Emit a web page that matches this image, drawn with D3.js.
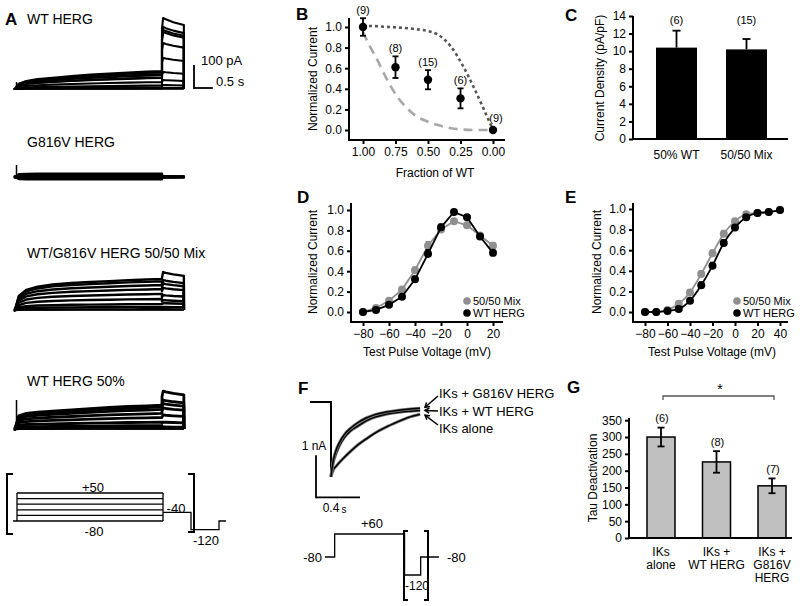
<!DOCTYPE html>
<html><head><meta charset="utf-8">
<script src="https://cdn.jsdelivr.net/npm/d3@7"></script>
<style>
body{margin:0;background:#fff}
svg{font-family:"Liberation Sans",Arial,sans-serif}
.tick line{stroke:#000;stroke-width:2}
.tick text{font-size:12px;fill:#000}
</style></head><body>
<svg id="c" width="800" height="606"></svg>
<script>
// ---------- DATA ----------
// Panel A: current families (pA) — one value per sweep
const tPulse = [0, 0.1, 0.3, 0.6, 1.0, 1.5, 2.0, 2.5, 3.0, 3.5, 3.9];
const tTail = [3.9, 3.93, 4.0, 4.2, 4.48];
const tailShape = [0.85, 1.0, 0.98, 0.94, 0.9];
const wtShape = [0, 0.3, 0.45, 0.55, 0.63, 0.72, 0.8, 0.86, 0.92, 0.97, 1.0];
const mutShape = [0, 0.9, 0.95, 1, 1, 1, 1, 1, 1, 1, 1];
const mixShape = [0, 0.45, 0.65, 0.75, 0.82, 0.87, 0.9, 0.93, 0.96, 0.98, 1.0];
const halfShape = [0, 0.55, 0.65, 0.7, 0.75, 0.8, 0.85, 0.9, 0.94, 0.97, 1.0];
const wtPlateau = [2, 6, 15, 30, 48, 65, 78, 72, 60, 50];
const wtTail = [4, 17, 39, 74, 135, 200, 248, 257, 270, 309];
const mutPlateau = [-10, -5, 0, 5, 10, 14];
const mutTail = [-2, -1, 0, 1, 2, 3];
const mixPlateau = [3, 13, 26, 48, 70, 91, 109, 125, 135];
const mixTail = [3, 13, 30, 43, 65, 96, 115, 130, 165];
const halfPlateau = [3, 15, 30, 50, 68, 85, 96, 104];
const halfTail = [3, 9, 30, 61, 91, 110, 126, 165];
const spikes = [30, 52, 20, 126];
const familyTitles = ["WT HERG", "G816V HERG", "WT/G816V HERG 50/50 Mix", "WT HERG 50%"];
// Protocol A (mV)
const protoALevels = [50, 24, -2, -28, -54, -80];

// Panel B
const fracWT = [1.00, 0.75, 0.50, 0.25, 0.00];
const normCurrent = [1.0, 0.61, 0.488, 0.307, 0.0];
const normErr = [0.085, 0.105, 0.093, 0.097, 0];
const bCounts = ["(9)", "(8)", "(15)", "(6)", "(9)"];
const bDotF = [1.0, 0.97, 0.8, 0.6, 0.5, 0.43, 0.33, 0.23, 0.15, 0.07, 0.0];
const bDotV = [1.01, 1.01, 1.0, 0.98, 0.96, 0.93, 0.82, 0.62, 0.42, 0.2, 0.0];
const bDashF = [1.0, 0.95, 0.89, 0.815, 0.74, 0.66, 0.585, 0.5, 0.43, 0.35, 0.28, 0.15, 0.0];
const bDashV = [0.95, 0.82, 0.68, 0.49, 0.33, 0.21, 0.13, 0.08, 0.05, 0.025, 0.01, 0.0, 0.0];
const bTicksX = [1.00, 0.75, 0.50, 0.25, 0.00];
const unitTicks = [0, 0.2, 0.4, 0.6, 0.8, 1.0];

// Panel C
const cCats = ["50% WT", "50/50 Mix"];
const cVals = [10.4, 10.2];
const cErr = [1.93, 1.18];
const cCounts = ["(6)", "(15)"];
const cTicks = [0, 2, 4, 6, 8, 10, 12, 14];

// Panel D
const dV = [-80, -70, -60, -50, -40, -30, -20, -10, 0, 10, 20];
const dWT = [0.0, 0.02, 0.07, 0.15, 0.32, 0.57, 0.83, 0.98, 0.93, 0.74, 0.58];
const dWTerr = [0.01, 0.01, 0.02, 0.02, 0.03, 0.04, 0.03, 0.02, 0.02, 0.02, 0.02];
const dMix = [0.0, 0.04, 0.11, 0.22, 0.41, 0.65, 0.81, 0.89, 0.85, 0.75, 0.65];
const dMixErr = [0.01, 0.01, 0.02, 0.02, 0.03, 0.04, 0.03, 0.02, 0.02, 0.02, 0.03];
const dTicksX = [-80, -60, -40, -20, 0, 20];

// Panel E
const eV = [-80, -70, -60, -50, -40, -30, -20, -10, 0, 10, 20, 30, 40];
const eWT = [0, 0, 0.01, 0.03, 0.11, 0.26, 0.45, 0.67, 0.82, 0.92, 0.96, 0.97, 0.99];
const eMix = [0, 0, 0.02, 0.08, 0.19, 0.37, 0.57, 0.76, 0.88, 0.95, 0.96, 0.97, 0.99];
const eErr = [0.01, 0.01, 0.01, 0.02, 0.02, 0.03, 0.03, 0.03, 0.02, 0.02, 0.01, 0.01, 0.01];
const eTicksX = [-80, -60, -40, -20, 0, 20, 40];
const legendNames = ["50/50 Mix", "WT HERG"];

// Panel F traces (s, nA)
const fT = [0, 0.02, 0.05, 0.08, 0.12, 0.18, 0.24, 0.32, 0.4, 0.5, 0.6, 0.7, 0.81];
const fG816V = [-1.78, -1.4, -1.12, -0.95, -0.78, -0.62, -0.5, -0.38, -0.3, -0.24, -0.2, -0.17, -0.15];
const fWT = [-1.78, -1.45, -1.2, -1.02, -0.85, -0.68, -0.58, -0.45, -0.36, -0.29, -0.25, -0.22, -0.2];
const fAlone = [-1.78, -1.62, -1.52, -1.43, -1.32, -1.17, -1.03, -0.88, -0.74, -0.6, -0.48, -0.37, -0.29];
const fLabels = ["IKs + G816V HERG", "IKs + WT HERG", "IKs alone"];
// Protocol F (time s, mV)
const protoFT = [0, 0.09, 0.09, 0.74, 0.74, 0.89, 0.89, 1.06];
const protoFV = [-80, -80, 60, 60, -120, -120, -80, -80];

// Panel G
const gCats = [["IKs", "alone"], ["IKs +", "WT HERG"], ["IKs +", "G816V", "HERG"]];
const gVals = [300, 226, 155];
const gErr = [28, 32, 22];
const gCounts = ["(6)", "(8)", "(7)"];
const gTicks = [0, 50, 100, 150, 200, 250, 300, 350];

// ---------- DRAW ----------
const svg = d3.select("#c");

function text(x, y, s, size, anchor, opts = {}) {
  const t = svg.append("text").attr("x", x).attr("y", y).attr("dy", "0.35em")
    .attr("font-size", size).attr("text-anchor", anchor || "start").attr("fill", "#000").text(s);
  if (opts.bold) t.attr("font-weight", "bold");
  if (opts.rot) t.attr("transform", `rotate(-90,${x},${y})`);
  return t;
}
function line(x1, y1, x2, y2, w = 2, col = "#000") {
  svg.append("line").attr("x1", x1).attr("y1", y1).attr("x2", x2).attr("y2", y2)
    .attr("stroke", col).attr("stroke-width", w);
}
function leftAxis(scale, x, ticks, fmt) {
  svg.append("g").attr("transform", `translate(${x},0)`)
    .call(d3.axisLeft(scale).tickValues(ticks).tickFormat(fmt).tickSize(4).tickPadding(3))
    .call(g => g.select(".domain").remove());
}
function bottomAxis(scale, y, ticks, fmt) {
  svg.append("g").attr("transform", `translate(0,${y})`)
    .call(d3.axisBottom(scale).tickValues(ticks).tickFormat(fmt).tickSize(4).tickPadding(3))
    .call(g => g.select(".domain").remove());
}

// Panel letters
[["A", 5, 19], ["B", 296, 14], ["C", 565, 15], ["D", 297, 197], ["E", 565, 197], ["F", 298, 388], ["G", 567, 387]]
  .forEach(([l, x, y]) => text(x, y, l, 17, "start", { bold: true }));

// ---- Panel A ----
const xA = d3.scaleLinear().domain([0, 3.9]).range([15, 162]);
const baseA = [89, 177, 310, 429];
const titleY = [19, 142, 253, 381];
const fams = [
  [wtShape, wtPlateau, wtTail, 2.1],
  [mutShape, mutPlateau, mutTail, 2.4],
  [mixShape, mixPlateau, mixTail, 2.4],
  [halfShape, halfPlateau, halfTail, 2.8]
];
fams.forEach(([shape, plat, tail, sw], fi) => {
  const yA = d3.scaleLinear().domain([0, 100]).range([baseA[fi], baseA[fi] - 23]);
  text(27, titleY[fi], familyTitles[fi], 14);
  const ln = d3.line().x(d => xA(d[0])).y(d => yA(d[1]));
  plat.forEach((p, i) => {
    const pts = [[-0.03, 0], [0, 0]];
    tPulse.forEach((t, k) => { if (k > 0) pts.push([t, p * shape[k]]); });
    tTail.forEach((t, k) => pts.push([t, tail[i] * tailShape[k]]));
    pts.push([4.48, 0]);
    svg.append("path").attr("d", ln(pts)).attr("fill", "none").attr("stroke", "#000")
      .attr("stroke-width", sw).attr("stroke-linejoin", "round");
  });
  line(xA(0.04), yA(0), xA(0.04), yA(spikes[fi]), 1.5);
  line(xA(-0.03), yA(0), xA(4.48), yA(0), 1.5);
});
// scale bar A
{
  const yS = d3.scaleLinear().domain([0, 100]).range([88, 65]);
  const xs0 = 194, xs1 = xs0 + (xA(0.5) - xA(0));
  line(xs0, yS(0) + 1, xs0, yS(100), 1.8);
  line(xs0, yS(0), xs1, yS(0), 1.8);
  text(201, 60, "100 pA", 13);
  text(216, 81, "0.5 s", 13);
}
// Protocol A
{
  const yP = d3.scaleLinear().domain([-80, 50]).range([521, 493]);
  const xP = d3.scaleLinear().domain([0, 3.9]).range([17, 163]);
  protoALevels.forEach(v => {
    if (v === -80) line(13, yP(v), xP(3.9), yP(v), 1.3);
    else line(xP(0), yP(v), xP(3.9), yP(v), 1.3);
  });
  line(xP(0), yP(50), xP(0), yP(-80), 1.3);
  line(xP(3.9), yP(50), xP(3.9), yP(-80), 1.3);
  const tail = d3.line()([[xP(3.9), yP(-40)], [191, yP(-40)], [191, yP(-120)], [219, yP(-120)], [219, yP(-80)], [226, yP(-80)]]);
  svg.append("path").attr("d", tail).attr("fill", "none").attr("stroke", "#000").attr("stroke-width", 1.3);
  svg.append("path").attr("d", "M13,474 H7 V534 H13").attr("fill", "none").attr("stroke", "#000").attr("stroke-width", 2);
  svg.append("path").attr("d", "M188,474 H194 V532 H188").attr("fill", "none").attr("stroke", "#000").attr("stroke-width", 2);
  text(93, 487, "+50", 13, "middle");
  text(94, 531, "-80", 13, "middle");
  text(176, 508, "-40", 13, "middle");
  text(206, 540, "-120", 13, "middle");
}

// ---- Panel B ----
{
  const x = d3.scaleLinear().domain([1, 0]).range([363, 493]);
  const y = d3.scaleLinear().domain([0, 1]).range([130, 27]);
  line(349, 18, 349, 141, 2); line(348, 140, 505, 140, 2);
  leftAxis(y, 349, unitTicks, d3.format(".1f"));
  bottomAxis(x, 140, bTicksX, d3.format(".2f"));
  text(313, 79, "Normalized Current", 12, "middle", { rot: true });
  text(435, 173, "Fraction of WT", 12, "middle");
  const cv = d3.line().x(d => x(d[0])).y(d => y(d[1])).curve(d3.curveMonotoneX);
  svg.append("path").attr("d", cv(bDashF.map((f, i) => [f, bDashV[i]])))
    .attr("fill", "none").attr("stroke", "#a8a8a8").attr("stroke-width", 2.6).attr("stroke-dasharray", "9,6");
  svg.append("path").attr("d", cv(bDotF.map((f, i) => [f, bDotV[i]])))
    .attr("fill", "none").attr("stroke", "#555").attr("stroke-width", 2.6).attr("stroke-dasharray", "3,3");
  fracWT.forEach((f, i) => {
    if (normErr[i] > 0) {
      line(x(f), y(normCurrent[i] - normErr[i]), x(f), y(normCurrent[i] + normErr[i]), 1.8);
      line(x(f) - 3, y(normCurrent[i] + normErr[i]), x(f) + 3, y(normCurrent[i] + normErr[i]), 1.8);
      line(x(f) - 3, y(normCurrent[i] - normErr[i]), x(f) + 3, y(normCurrent[i] - normErr[i]), 1.8);
    }
    svg.append("circle").attr("cx", x(f)).attr("cy", y(normCurrent[i])).attr("r", 4.2).attr("fill", "#000");
    const ly = i === 4 ? y(normCurrent[i]) - 12 : y(normCurrent[i] + normErr[i]) - 8;
    text(i === 4 ? x(f) + 3 : x(f), ly, bCounts[i], 11, "middle");
  });
}

// ---- Panel C ----
{
  const x = d3.scalePoint().domain(cCats).range([676.5, 746.5]);
  const y = d3.scaleLinear().domain([0, 14]).range([139, 16]);
  const bw = 41;
  cCats.forEach((c, i) => {
    const top = y(cVals[i] + cErr[i]);
    line(x(c), y(cVals[i]), x(c), top, 1.8);
    line(x(c) - 4, top, x(c) + 4, top, 1.8);
    svg.append("rect").attr("x", x(c) - bw / 2).attr("y", y(cVals[i])).attr("width", bw)
      .attr("height", y(0) - y(cVals[i])).attr("fill", "#000");
    text(x(c), 20, cCounts[i], 11, "middle");
    text(x(c), 155, c, 12, "middle");
  });
  line(633, 16, 633, 140, 2); line(632, 139, 788, 139, 2);
  leftAxis(y, 633, cTicks, d3.format("d"));
  text(600, 78, "Current Density (pA/pF)", 12, "middle", { rot: true });
}

// ---- Panels D & E ----
function ivPanel(xs, ys, xv, ser1, err1, ser2, err2, ax, ay0, ay1, axEnd, ticksX, ylabX, xlabX, legX, curve) {
  line(ax, ay0, ax, ay1 + 1, 2); line(ax - 1, ay1, axEnd, ay1, 2);
  leftAxis(ys, ax, unitTicks, d3.format(".1f"));
  bottomAxis(xs, ay1, ticksX, d3.format("d"));
  text(ylabX, 262, "Normalized Current", 12, "middle", { rot: true });
  text(xlabX, 352, "Test Pulse Voltage (mV)", 12, "middle");
  const ln = d3.line().x((d, i) => xs(xv[i])).y(d => ys(d)).curve(curve);
  [[ser1, err1, "#8f8f8f"], [ser2, err2, "#000"]].forEach(([s, e, col]) => {
    svg.append("path").attr("d", ln(s)).attr("fill", "none").attr("stroke", col).attr("stroke-width", 1.8);
    s.forEach((v, i) => {
      line(xs(xv[i]), ys(v - e[i]), xs(xv[i]), ys(v + e[i]), 1.5, col);
      line(xs(xv[i]) - 2.5, ys(v + e[i]), xs(xv[i]) + 2.5, ys(v + e[i]), 1.5, col);
    });
    s.forEach((v, i) => svg.append("circle").attr("cx", xs(xv[i])).attr("cy", ys(v)).attr("r", 4).attr("fill", col));
  });
  [["#8f8f8f", 301], ["#000", 313]].forEach(([col, yy], i) => {
    svg.append("circle").attr("cx", legX).attr("cy", yy).attr("r", 3.8).attr("fill", col);
    text(legX + 6, yy, legendNames[i], 11, "start");
  });
}
ivPanel(d3.scaleLinear().domain([-80, 20]).range([363, 493]), d3.scaleLinear().domain([0, 1]).range([312, 210]),
  dV, dMix, dMixErr, dWT, dWTerr, 351, 203, 322, 503, dTicksX, 313, 427, 467, d3.curveLinear);
ivPanel(d3.scaleLinear().domain([-80, 40]).range([645, 780]), d3.scaleLinear().domain([0, 1]).range([312, 209]),
  eV, eMix, eErr, eWT, eErr, 633, 203, 322, 788, eTicksX, 597, 712, 737, d3.curveMonotoneX);

// ---- Panel F ----
{
  const x = d3.scaleLinear().domain([0, 1]).range([331, 441]);
  const y = d3.scaleLinear().domain([0, -1]).range([402, 444]);
  line(310, y(0), x(0), y(0), 2);
  line(x(0), y(0) - 1, x(0), y(-1.78), 2);
  const ln = d3.line().x((d, i) => x(fT[i])).y(d => y(d)).curve(d3.curveMonotoneX);
  [fAlone, fWT, fG816V].forEach(s => {
    svg.append("path").attr("d", ln(s)).attr("fill", "none").attr("stroke", "#777").attr("stroke-width", 3);
    svg.append("path").attr("d", ln(s)).attr("fill", "none").attr("stroke", "#000").attr("stroke-width", 1.5);
  });
  const labY = [393, 411, 428];
  const tipY = [y(fG816V[12]) - 1, y(fWT[12]), y(fAlone[12]) + 1];
  labY.forEach((ly, i) => {
    text(439, ly, fLabels[i], 13, "start");
    const x0 = 438, y0 = ly + (i === 0 ? 3 : i === 2 ? -3 : 0), x1 = 425, y1 = tipY[i];
    line(x0, y0, x1, y1, 1.5);
    const a = Math.atan2(y1 - y0, x1 - x0);
    const ah = 5;
    svg.append("path").attr("d", `M${x1 + ah * Math.cos(a + 2.6)},${y1 + ah * Math.sin(a + 2.6)} L${x1},${y1} L${x1 + ah * Math.cos(a - 2.6)},${y1 + ah * Math.sin(a - 2.6)}`)
      .attr("fill", "none").attr("stroke", "#000").attr("stroke-width", 1.5);
  });
  line(316, y(-1.27), 316, y(-2.27) + 1, 1.8);
  line(316, y(-2.27), 316 + (x(0.4) - x(0)), y(-2.27), 1.8);
  text(314, 446, "1 nA", 12, "middle");
  text(331, 508, "0.4", 12, "middle");
  text(344, 509, "s", 10, "middle");
  const xp = d3.scaleLinear().domain([0, 1]).range([325, 432.5]);
  const yp = d3.scaleLinear().domain([-120, -80, 60]).range([575, 557, 534]);
  svg.append("path").attr("d", d3.line().x((d, i) => xp(protoFT[i])).y(d => yp(d))(protoFV))
    .attr("fill", "none").attr("stroke", "#000").attr("stroke-width", 1.3);
  svg.append("path").attr("d", "M408,531 H404 V600 H408").attr("fill", "none").attr("stroke", "#000").attr("stroke-width", 2);
  svg.append("path").attr("d", "M424,531 H428 V600 H424").attr("fill", "none").attr("stroke", "#000").attr("stroke-width", 2);
  text(322, 557, "-80", 13, "end");
  text(372, 523, "+60", 13, "middle");
  text(417, 586, "-120", 12, "middle");
  text(447, 557, "-80", 13, "start");
}

// ---- Panel G ----
{
  const x = d3.scalePoint().domain(gCats.map((c, i) => i)).range([661, 772]);
  const y = d3.scaleLinear().domain([0, 350]).range([538, 420.2]);
  const bw = 28;
  gVals.forEach((v, i) => {
    svg.append("rect").attr("x", x(i) - bw / 2).attr("y", y(v)).attr("width", bw)
      .attr("height", y(0) - y(v)).attr("fill", "#c0c0c0").attr("stroke", "#000").attr("stroke-width", 1.5);
    line(x(i), y(v - gErr[i]), x(i), y(v + gErr[i]), 1.8);
    line(x(i) - 3.5, y(v + gErr[i]), x(i) + 3.5, y(v + gErr[i]), 1.8);
    line(x(i) - 3.5, y(v - gErr[i]), x(i) + 3.5, y(v - gErr[i]), 1.8);
    text(x(i) + 1, y(v + gErr[i]) - 9, gCounts[i], 11, "middle");
    gCats[i].forEach((s, k) => text(x(i), 552 + k * 13, s, 12, "middle"));
  });
  line(629, 418, 629, 539, 2); line(628, 538, 792, 538, 2);
  leftAxis(y, 629, gTicks, d3.format("d"));
  text(593, 478, "Tau Deactivation", 12, "middle", { rot: true });
  svg.append("path").attr("d", "M663,400 V396 H774 V400").attr("fill", "none").attr("stroke", "#555").attr("stroke-width", 1.3);
  text(720, 389, "*", 14, "middle");
}
</script></body></html>
